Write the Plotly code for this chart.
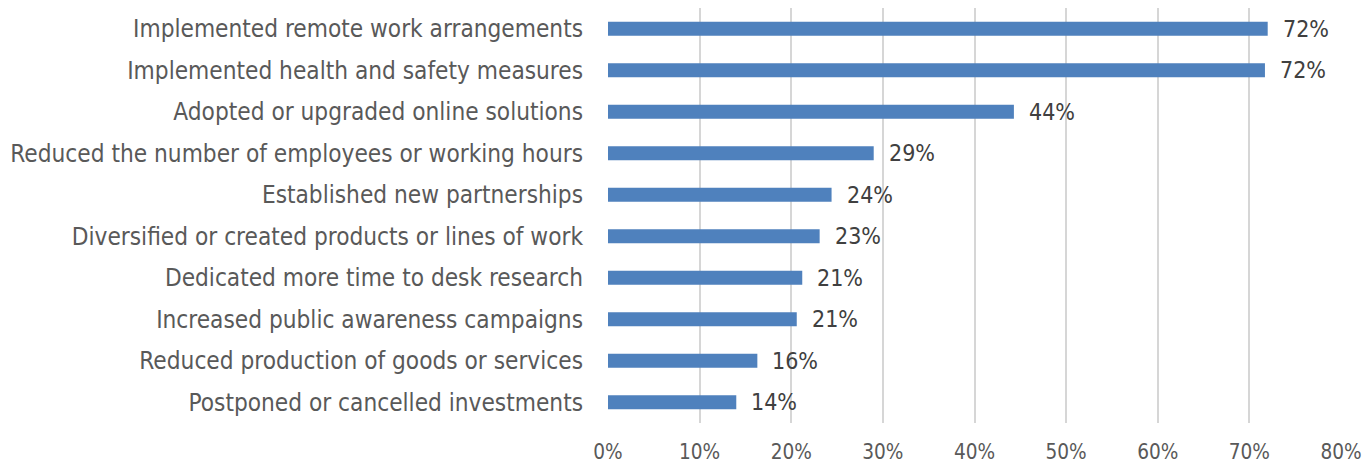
import plotly.graph_objects as go

categories = [
    "Implemented remote work arrangements",
    "Implemented health and safety measures",
    "Adopted or upgraded online solutions",
    "Reduced the number of employees or working hours",
    "Established new partnerships",
    "Diversified or created products or lines of work",
    "Dedicated more time to desk research",
    "Increased public awareness campaigns",
    "Reduced production of goods or services",
    "Postponed or cancelled investments",
]
values = [0.720, 0.717, 0.443, 0.290, 0.244, 0.231, 0.212, 0.206, 0.163, 0.140]
tick_vals = [0, 0.1, 0.2, 0.3, 0.4, 0.5, 0.6, 0.7, 0.8]

FONT = "DejaVu Sans Condensed, sans-serif"

fig = go.Figure(go.Bar(
    x=values, y=categories, orientation="h",
    marker=dict(color="#4f81bd", line=dict(width=0)),
    width=0.34,
    hoverinfo="x+y",
))
for v, c in zip(values, categories):
    fig.add_annotation(x=v, y=c, text=f"{round(v*100):d}%", showarrow=False,
                       xanchor="left", yanchor="middle", xshift=13,
                       font=dict(family=FONT, size=23, color="#404040"))
fig.update_layout(
    width=1363, height=465,
    margin=dict(l=608, r=22, t=8, b=42, autoexpand=False),
    paper_bgcolor="white", plot_bgcolor="white",
    showlegend=False,
    font=dict(family=FONT, color="#595959"),
    xaxis=dict(range=[0, 0.8], tickvals=tick_vals, tickformat=".0%",
               showgrid=True, gridcolor="#d6d6d6", gridwidth=1.5,
               zeroline=False, showline=False, automargin=False,
               tickfont=dict(size=20.6, color="#595959"), ticklen=0,
               ticklabelstandoff=14),
    yaxis=dict(range=[9.5, -0.5], categoryorder="array", categoryarray=categories,
               showgrid=False, zeroline=False, showline=False, automargin=False,
               tickfont=dict(size=24.2, color="#595959"), ticks="", ticklabelstandoff=24),
)
fig.write_html(
    "out.html",
    config={"displayModeBar": False},
    post_script="document.body.style.margin='0';document.body.style.overflow='hidden';",
)
